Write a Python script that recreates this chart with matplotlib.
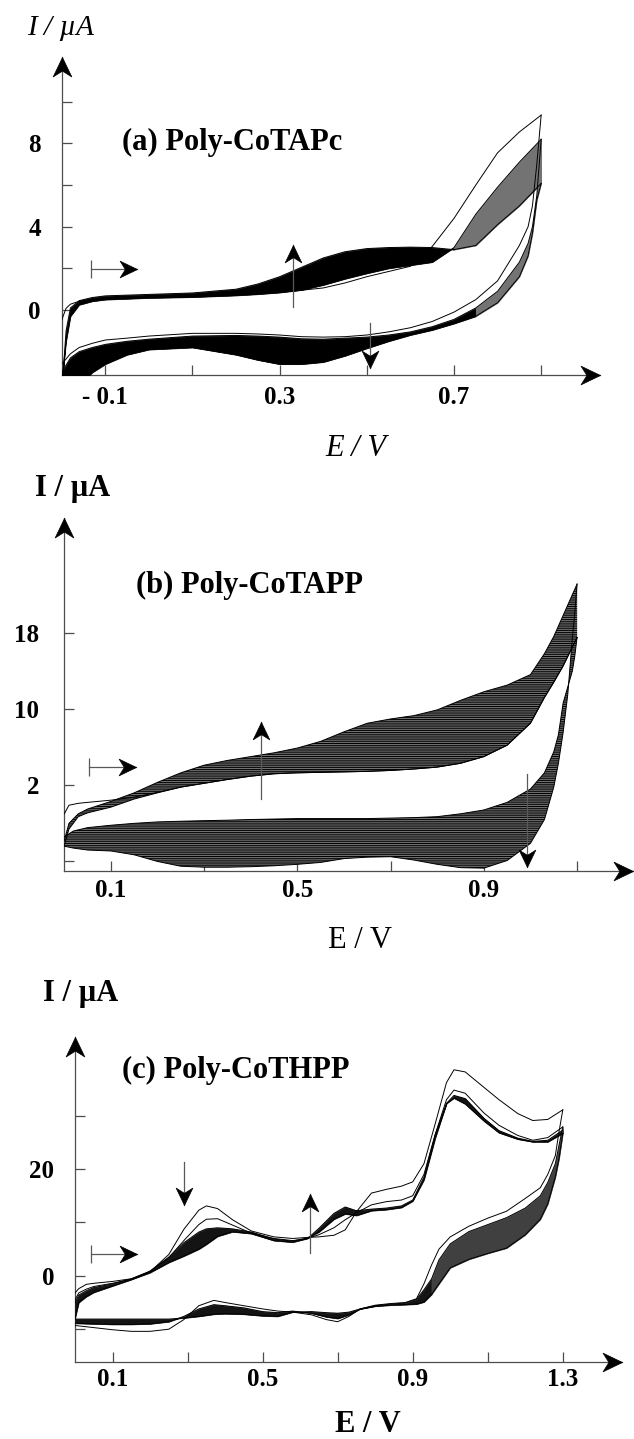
import numpy as np
import matplotlib.pyplot as plt
from matplotlib.path import Path

plt.rcParams['font.family'] = ['Liberation Serif', 'DejaVu Serif']
plt.rcParams['hatch.linewidth'] = 0.7

W, H = 634, 1439  # figure size in pixels (dpi 100)

# ---------------- (a) Poly-CoTAPc ----------------
# forward (anodic) sweep
A_E_FWD = [-0.2, -0.19, -0.18, -0.16, -0.13, -0.1, 0.0, 0.1, 0.2, 0.25, 0.3, 0.35,
           0.4, 0.45, 0.5, 0.55, 0.6, 0.65, 0.7, 0.75, 0.8, 0.85, 0.9]
A_FIRST_FWD = [-0.48, 0.08, 0.28, 0.42, 0.52, 0.57, 0.6, 0.64, 0.72, 0.78, 0.86, 0.95,
               1.06, 1.3, 1.6, 1.85, 2.1, 3.05, 4.4, 6.0, 7.55, 8.55, 9.36]
A_EARLY_FWD = [-3.5, -1.5, -0.3, 0.25, 0.42, 0.5, 0.58, 0.62, 0.7, 0.76, 0.84, 0.96,
               1.2, 1.5, 1.76, 2.0, 2.15, 2.3, 3.0, 4.6, 5.9, 7.1, 8.2]
A_LATE_FWD = [-4.0, -1.0, 0.1, 0.45, 0.6, 0.68, 0.75, 0.82, 1.0, 1.25, 1.6, 2.05,
              2.5, 2.8, 2.95, 3.0, 3.02, 3.0, 2.9, 3.1, 4.1, 5.0, 6.08]
# reverse (cathodic) sweep
A_E_REV = [0.9, 0.89, 0.88, 0.87, 0.85, 0.8, 0.75, 0.7, 0.65, 0.6, 0.55, 0.5, 0.45,
           0.4, 0.35, 0.3, 0.25, 0.2, 0.1, 0.0, -0.05, -0.1, -0.13, -0.16, -0.18, -0.2]
A_FIRST_REV = [9.36, 7.0, 5.0, 4.0, 3.1, 1.4, 0.5, -0.1, -0.55, -0.85, -1.05, -1.2, -1.28,
               -1.3, -1.28, -1.2, -1.15, -1.12, -1.12, -1.25, -1.35, -1.44, -1.6, -1.8, -2.1, -2.6]
A_EARLY_REV = [8.2, 5.5, 4.0, 3.2, 2.3, 0.9, 0.1, -0.45, -0.8, -1.05, -1.2, -1.3, -1.35,
               -1.4, -1.38, -1.3, -1.25, -1.22, -1.25, -1.4, -1.5, -1.65, -1.8, -2.0, -2.3, -3.0]
A_LATE_REV = [6.08, 5.28, 3.68, 2.6, 1.6, 0.35, -0.3, -0.65, -0.96, -1.2, -1.5, -1.84, -2.2,
              -2.5, -2.6, -2.6, -2.4, -2.15, -1.8, -1.9, -2.15, -2.6, -3.0, -3.6, -4.0, -4.5]

# ---------------- (b) Poly-CoTAPP ----------------
B_E_FWD = [0.0, 0.01, 0.03, 0.05, 0.1, 0.15, 0.2, 0.25, 0.3, 0.35, 0.4, 0.45, 0.5, 0.55,
           0.6, 0.65, 0.7, 0.75, 0.8, 0.85, 0.9, 0.95, 1.0, 1.03, 1.05, 1.07, 1.09, 1.1]
B_FIRST_FWD = [-1.0, -0.1, 0.1, 0.2, 0.43, 0.75, 1.25, 1.8, 2.2, 2.6, 2.95, 3.2, 3.3, 3.35,
               3.4, 3.45, 3.55, 3.7, 3.9, 4.3, 5.0, 6.2, 8.5, 11.2, 12.8, 14.5, 16.5, 17.5]
B_EARLY_FWD = [-4.3, -2.6, -1.3, -0.9, -0.3, 0.55, 1.2, 1.8, 2.2, 2.6, 2.95, 3.2, 3.3, 3.35,
               3.4, 3.45, 3.55, 3.7, 3.9, 4.3, 5.0, 6.2, 8.5, 11.2, 12.8, 14.5, 16.5, 17.5]
B_LATE_FWD = [-3.8, -2.0, -1.0, -0.5, 0.3, 1.2, 2.3, 3.3, 4.1, 4.6, 5.0, 5.4, 5.9, 6.6,
              7.6, 8.5, 8.95, 9.3, 9.9, 10.9, 11.8, 12.5, 13.6, 15.8, 17.6, 19.8, 22.0, 23.1]
B_E_REV = [1.1, 1.095, 1.09, 1.08, 1.07, 1.06, 1.05, 1.03, 1.0, 0.95, 0.9, 0.85, 0.8, 0.75,
           0.7, 0.65, 0.6, 0.55, 0.5, 0.45, 0.4, 0.35, 0.3, 0.25, 0.2, 0.15, 0.1, 0.05, 0.02, 0.0]
B_FIRST_REV = [17.5, 15.5, 14.0, 12.3, 10.6, 7.3, 5.5, 3.3, 1.6, 0.2, -0.6, -1.0, -1.3, -1.4,
               -1.45, -1.5, -1.5, -1.5, -1.5, -1.55, -1.6, -1.67, -1.72, -1.78, -1.85, -2.0,
               -2.2, -2.45, -2.8, -3.4]
B_LATE_REV = [23.1, 20.0, 17.5, 11.5, 7.5, 4.3, 1.8, -1.6, -4.1, -5.9, -6.7, -6.65, -6.3, -5.85,
              -5.5, -5.55, -5.7, -6.1, -6.3, -6.45, -6.55, -6.6, -6.6, -6.5, -6.0, -5.3,
              -4.9, -4.8, -4.6, -4.4]

# ---------------- (c) Poly-CoTHPP ----------------
C_E_FWD = [0.0, 0.01, 0.03, 0.05, 0.1, 0.15, 0.2, 0.25, 0.29, 0.33, 0.35, 0.38, 0.42, 0.47,
           0.53, 0.58, 0.62, 0.65, 0.69, 0.72, 0.75, 0.79, 0.83, 0.87, 0.9, 0.93, 0.96, 0.99,
           1.01, 1.04, 1.09, 1.13, 1.18, 1.22, 1.26, 1.3]
C_FIRST_FWD = [-3.2, -2.4, -1.6, -1.4, -1.05, -0.55, 0.75, 4.0, 8.7, 12.3, 13.1, 12.6, 10.5, 8.4,
               7.3, 7.0, 7.2, 7.3, 7.6, 8.6, 12.0, 15.5, 16.2, 16.8, 17.6, 21.0, 28.5, 36.2,
               38.6, 38.2, 35.3, 33.0, 30.4, 29.1, 29.3, 31.1]
C_SECOND_FWD = [-4.5, -3.2, -2.5, -2.0, -1.4, -0.6, 0.8, 3.4, 6.6, 9.6, 10.6, 10.7, 9.5, 8.0,
                7.0, 6.6, 7.0, 7.7, 9.0, 10.5, 11.8, 13.3, 13.9, 14.2, 15.0, 19.0, 26.5, 33.0,
                34.8, 34.2, 30.5, 28.2, 26.3, 25.4, 25.9, 27.9]
C_EARLY_FWD = [-5.0, -3.6, -2.8, -2.2, -1.5, -0.6, 0.9, 3.5, 6.2, 8.2, 8.8, 9.0, 8.8, 8.2,
               6.9, 6.5, 7.1, 8.2, 10.6, 11.6, 11.3, 12.2, 12.4, 12.8, 14.0, 18.0, 25.8, 32.3,
               33.8, 33.2, 29.5, 27.2, 25.8, 25.2, 25.4, 27.3]
C_LATE_FWD = [-8.0, -5.0, -3.9, -3.1, -1.9, -0.7, 0.6, 2.5, 3.7, 5.0, 5.9, 7.4, 8.25, 7.9,
              6.6, 6.3, 7.0, 8.9, 11.7, 12.9, 12.2, 12.5, 12.7, 13.1, 14.2, 18.5, 26.5, 32.3,
              33.3, 32.2, 29.0, 26.8, 25.6, 25.1, 25.1, 26.7]
C_E_REV = [1.3, 1.29, 1.28, 1.26, 1.24, 1.2, 1.15, 1.1, 1.05, 1.0, 0.97, 0.95, 0.93, 0.91,
           0.88, 0.84, 0.8, 0.76, 0.73, 0.7, 0.67, 0.63, 0.58, 0.54, 0.5, 0.45, 0.4, 0.37,
           0.33, 0.29, 0.25, 0.2, 0.15, 0.1, 0.05, 0.0]
C_FIRST_REV = [31.1, 27.0, 22.5, 19.0, 16.5, 14.5, 12.1, 10.8, 9.3, 7.3, 5.0, 2.0, -1.5, -4.3,
               -5.0, -5.2, -5.5, -6.2, -7.6, -8.6, -8.2, -7.3, -6.8, -6.6, -6.2, -5.6, -5.0,
               -4.6, -5.6, -8.2, -10.0, -10.4, -10.4, -10.1, -9.7, -9.3]
C_EARLY_REV = [27.9, 24.5, 21.0, 17.5, 15.0, 12.7, 10.9, 9.6, 8.3, 6.0, 3.0, -0.6, -2.6, -4.4,
               -5.1, -5.3, -5.6, -6.2, -7.3, -8.0, -7.7, -7.0, -6.6, -6.9, -6.7, -6.0, -5.6,
               -5.4, -6.2, -7.6, -8.6, -9.0, -9.1, -9.1, -9.0, -8.9]
C_LATE_REV = [26.7, 22.0, 18.5, 13.5, 10.6, 7.7, 5.2, 4.2, 3.1, 1.5, -1.5, -3.5, -4.9, -5.3,
              -5.4, -5.5, -5.7, -6.2, -6.8, -7.0, -6.9, -6.7, -6.8, -7.6, -7.5, -7.2, -7.1,
              -7.2, -7.6, -7.9, -8.1, -8.1, -8.1, -8.1, -8.1, -8.1]


def stealth(angle):
    """Swept-back arrowhead with its tip at the origin, pointing along angle (deg)."""
    v = np.array([(0, 0), (-1, 0.48), (-0.7, 0), (-1, -0.48), (0, 0)], float)
    a = np.deg2rad(angle)
    rot = np.array([[np.cos(a), -np.sin(a)], [np.sin(a), np.cos(a)]])
    v = v @ rot.T
    return Path(v, [Path.MOVETO, Path.LINETO, Path.LINETO, Path.LINETO, Path.CLOSEPOLY])


def head(ax, x, y, angle, size=28):
    ax.plot([x], [y], marker=stealth(angle), ms=size, color='k', mec='k', mew=0.5,
            lw=0, clip_on=False, zorder=6)


def arrow(ax, x0, y0, x1, y1, angle, bar=False):
    ax.plot([x0, x1], [y0, y1], color='0.35', lw=0.9, zorder=5)
    head(ax, x1, y1, angle, size=25)
    if bar:
        ax.plot([x0], [y0], marker='|', ms=13, mew=0.9, color='0.35', zorder=5)


def make_axes(rect_px, xlim, ylim):
    l, t, r, b = rect_px
    ax = fig.add_axes([l / W, 1 - b / H, (r - l) / W, (b - t) / H])
    ax.set_xlim(*xlim)
    ax.set_ylim(*ylim)
    for s in ax.spines.values():
        s.set_visible(False)
    # axis lines with arrowheads
    ax.plot([xlim[0], xlim[1]], [ylim[0], ylim[0]], color='0.3', lw=0.9, clip_on=False)
    ax.plot([xlim[0], xlim[0]], [ylim[0], ylim[1]], color='0.3', lw=0.9, clip_on=False)
    head(ax, xlim[1], ylim[0], 0)
    head(ax, xlim[0], ylim[1], 90)
    ax.tick_params(direction='in', length=7, width=0.9, color='0.3', labelsize=18)
    return ax


def band(ax, e, lo, hi, split=None, dark='k', light='0.45'):
    e = np.asarray(e)
    if split is None:
        ax.fill_between(e, lo, hi, color=dark, lw=0.5, zorder=2)
    else:
        ax.fill_between(e, lo, hi, where=e <= split, color=dark, lw=0.5, zorder=2)
        ax.fill_between(e, lo, hi, where=e >= split, color=light, lw=0.5, zorder=2)


def bold_labels(ax):
    for lab in ax.get_xticklabels() + ax.get_yticklabels():
        lab.set_fontweight('bold')


def ftext(x, y, s, **kw):
    fig.text(x / W, 1 - y / H, s, **kw)


fig = plt.figure(figsize=(W / 100, H / 100), dpi=100)

# ---- panel (a) ----
ax = make_axes((61.7, 57, 600, 375), (-0.2, 1.035), (-3.12, 12.15))
band(ax, A_E_FWD, A_EARLY_FWD, A_LATE_FWD, split=0.7)
band(ax, A_E_REV, A_EARLY_REV, A_LATE_REV, split=0.75)
for e, i in ((A_E_FWD, A_FIRST_FWD), (A_E_FWD, A_EARLY_FWD), (A_E_FWD, A_LATE_FWD),
             (A_E_REV, A_FIRST_REV), (A_E_REV, A_EARLY_REV), (A_E_REV, A_LATE_REV)):
    ax.plot(e, i, color='k', lw=0.7, zorder=3)
ax.set_xticks([-0.1, 0.1, 0.3, 0.5, 0.7, 0.9], ['- 0.1', '', '0.3', '', '0.7', ''])
ax.set_yticks([0, 2, 4, 6, 8, 10], ['0', '', '4', '', '8', ''])
ax.tick_params(axis='x', pad=8)
ax.tick_params(axis='y', pad=15)
bold_labels(ax)
arrow(ax, 0.331, 0.14, 0.331, 3.1, 90)
arrow(ax, 0.508, -0.62, 0.508, -2.78, -90)
arrow(ax, -0.1335, 1.97, -0.028, 1.97, 0, bar=True)
ftext(27, 28, 'I / µA', style='italic', fontsize=21, ha='left', va='center')
ftext(122, 142, '(a) Poly-CoTAPc', fontweight='bold', fontsize=22, ha='left', va='center')
ftext(356, 448, 'E / V', style='italic', fontsize=22, ha='center', va='center')

# ---- panel (b) ----
ax = make_axes((64.3, 518.3, 633, 871), (0.0, 1.22), (-7.0, 30.0))
ax.fill_between(B_E_FWD, B_EARLY_FWD, B_LATE_FWD, facecolor='0.5', edgecolor='k',
                hatch='-' * 9, lw=0, zorder=2)
ax.fill_between(B_E_REV, B_LATE_REV, B_FIRST_REV, facecolor='0.5', edgecolor='k',
                hatch='-' * 9, lw=0, zorder=2)
for e, i in ((B_E_FWD, B_FIRST_FWD), (B_E_FWD, B_EARLY_FWD), (B_E_FWD, B_LATE_FWD),
             (B_E_REV, B_FIRST_REV), (B_E_REV, B_LATE_REV)):
    ax.plot(e, i, color='k', lw=0.7, zorder=3)
ax.set_xticks([0.1, 0.3, 0.5, 0.7, 0.9, 1.1], ['0.1', '', '0.5', '', '0.9', ''])
ax.set_yticks([-6, 2, 10, 18], ['', '2', '10', '18'])
ax.tick_params(axis='x', pad=6)
ax.tick_params(axis='y', pad=18)
bold_labels(ax)
arrow(ax, 0.423, 0.6, 0.423, 8.6, 90)
arrow(ax, 0.993, 3.2, 0.993, -6.6, -90)
arrow(ax, 0.053, 3.9, 0.154, 3.9, 0, bar=True)
ftext(35, 488, 'I / µA', fontweight='bold', fontsize=22, ha='left', va='center')
ftext(136, 585, '(b) Poly-CoTAPP', fontweight='bold', fontsize=22, ha='left', va='center')
ftext(360, 940, 'E / V', fontsize=22, ha='center', va='center')

# ---- panel (c) ----
ax = make_axes((75, 1036.7, 621.7, 1362.3), (0.0, 1.457), (-16.2, 44.8))
band(ax, C_E_FWD, C_EARLY_FWD, C_LATE_FWD, dark='0.08')
band(ax, C_E_REV, C_EARLY_REV, C_LATE_REV, split=0.95, dark='0.08', light='0.25')
for e, i in ((C_E_FWD, C_FIRST_FWD), (C_E_FWD, C_SECOND_FWD), (C_E_FWD, C_EARLY_FWD),
             (C_E_FWD, C_LATE_FWD), (C_E_REV, C_FIRST_REV), (C_E_REV, C_EARLY_REV),
             (C_E_REV, C_LATE_REV)):
    ax.plot(e, i, color='k', lw=0.7, zorder=3)
ax.set_xticks([0.1, 0.3, 0.5, 0.7, 0.9, 1.1, 1.3], ['0.1', '', '0.5', '', '0.9', '', '1.3'])
ax.set_yticks([-10, 0, 10, 20, 30], ['', '0', '', '20', ''])
ax.tick_params(axis='x', pad=4)
ax.tick_params(axis='y', pad=15)
bold_labels(ax)
arrow(ax, 0.291, 21.4, 0.291, 13.25, -90)
arrow(ax, 0.625, 4.2, 0.625, 15.3, 90)
arrow(ax, 0.042, 4.0, 0.164, 4.0, 0, bar=True)
ftext(43, 993, 'I / µA', fontweight='bold', fontsize=22, ha='left', va='center')
ftext(121.7, 1070, '(c) Poly-CoTHPP', fontweight='bold', fontsize=22, ha='left', va='center')
ftext(368, 1425, 'E / V', fontweight='bold', fontsize=22, ha='center', va='center')

fig.savefig('out.png', dpi=100, facecolor='white')
